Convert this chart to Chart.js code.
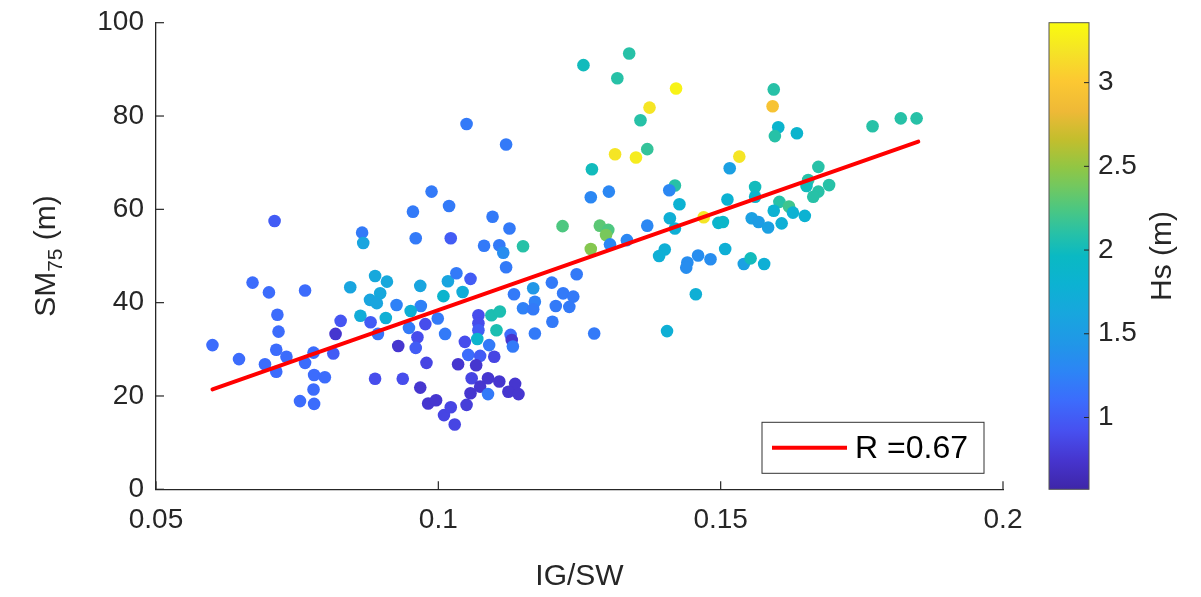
<!DOCTYPE html>
<html>
<head>
<meta charset="utf-8">
<script src="https://cdn.jsdelivr.net/npm/chart.js@4"></script>
<style>
  html, body { margin: 0; padding: 0; background: #fff; }
  #wrap { width: 1201px; height: 597px; position: relative; }
</style>
</head>
<body>
<div id="wrap"><canvas id="chart" width="1201" height="597"></canvas></div>
<script>
// Data
const igsw = [
    0.0671, 0.0700, 0.0764, 0.0710, 0.0600, 0.0647, 0.0715, 0.0717, 0.0713, 0.0731,
    0.0693, 0.0713, 0.0779, 0.0764, 0.0780, 0.0799, 0.0779, 0.0755, 0.0780, 0.0814,
    0.0818, 0.0827, 0.0844, 0.0865, 0.0867, 0.0888, 0.0909, 0.0897, 0.0879, 0.0891,
    0.0926, 0.0968, 0.1017, 0.1009, 0.0969, 0.0862, 0.0907, 0.0951, 0.0880, 0.0893,
    0.0948, 0.0977, 0.0999, 0.1012, 0.0963, 0.0960, 0.0929, 0.0888, 0.0937, 0.0979,
    0.0968, 0.0982, 0.0996, 0.1010, 0.1022, 0.1029, 0.1035, 0.0988, 0.0955, 0.1019,
    0.0960, 0.1022, 0.1050, 0.1120, 0.1096, 0.1126, 0.1081, 0.1108, 0.1115, 0.1150,
    0.1120, 0.1032, 0.1057, 0.1043, 0.1134, 0.1168, 0.1150, 0.1171, 0.1071, 0.1071,
    0.1094, 0.1109, 0.1103, 0.1071, 0.1047, 0.1069, 0.1090, 0.1128, 0.1130, 0.1132,
    0.1053, 0.1074, 0.1099, 0.1067, 0.1059, 0.1088, 0.1108, 0.1136, 0.1074, 0.1057,
    0.1088, 0.1124, 0.1142, 0.1050, 0.1338, 0.1257, 0.1317, 0.1374, 0.1358, 0.1313,
    0.1350, 0.1370, 0.1272, 0.1270, 0.1302, 0.1220, 0.1286, 0.1301, 0.1297, 0.1270,
    0.1304, 0.1334, 0.1370, 0.1245, 0.1201, 0.1221, 0.1239, 0.1208, 0.1232, 0.1168,
    0.1202, 0.1171, 0.1276, 0.1421, 0.1533, 0.1516, 0.1419, 0.1409, 0.1427, 0.1512,
    0.1561, 0.1561, 0.1410, 0.1419, 0.1470, 0.1496, 0.1504, 0.1555, 0.1567, 0.1401,
    0.1391, 0.1460, 0.1482, 0.1441, 0.1439, 0.1508, 0.1541, 0.1553, 0.1456, 0.1405,
    0.1594, 0.1592, 0.1602, 0.1596, 0.1635, 0.1769, 0.1819, 0.1847, 0.1673, 0.1655,
    0.1652, 0.1692, 0.1673, 0.1664, 0.1604, 0.1621, 0.1594, 0.1628, 0.1649, 0.1584,
    0.1608, 0.1577
];
const sm75 = [
    44.3, 42.2, 42.6, 57.5, 30.9, 27.9, 37.4, 33.8, 29.9, 28.4,
    26.8, 25.2, 29.3, 27.1, 24.5, 24.0, 21.4, 18.9, 18.3, 29.1,
    33.3, 36.1, 43.3, 55.0, 52.8, 45.7, 44.5, 42.0, 40.6, 39.9,
    39.5, 43.6, 44.6, 41.4, 39.3, 37.2, 36.7, 38.2, 35.8, 33.3,
    34.6, 35.4, 36.6, 33.3, 32.6, 30.3, 30.7, 23.7, 23.7, 27.1,
    21.8, 18.4, 19.1, 15.9, 17.6, 13.9, 26.8, 63.8, 59.5, 60.7,
    53.8, 53.8, 78.3, 73.9, 58.4, 55.9, 52.2, 52.3, 50.7, 52.1,
    47.6, 46.3, 45.1, 42.3, 41.8, 43.1, 38.8, 40.2, 37.3, 35.6,
    37.3, 38.1, 34.1, 34.1, 31.6, 32.2, 30.9, 33.1, 32.0, 30.6,
    28.8, 28.6, 28.4, 26.6, 23.8, 23.8, 23.1, 22.6, 22.0, 20.6,
    20.4, 20.9, 20.4, 18.1, 93.4, 90.9, 88.1, 81.8, 79.1, 71.8,
    71.1, 72.9, 68.6, 62.6, 63.8, 56.4, 56.5, 55.6, 54.5, 51.5,
    52.5, 53.4, 56.5, 46.1, 44.3, 42.0, 41.3, 39.3, 39.1, 38.6,
    35.9, 33.4, 33.4, 85.9, 71.3, 68.8, 65.1, 64.1, 61.1, 62.1,
    64.8, 62.7, 58.1, 55.9, 58.3, 57.1, 57.3, 58.1, 57.3, 51.4,
    50.0, 50.1, 49.3, 48.6, 47.5, 51.5, 48.3, 49.5, 41.8, 33.9,
    85.7, 82.1, 77.6, 75.7, 76.3, 77.8, 79.5, 79.5, 69.1, 66.3,
    65.0, 65.2, 63.8, 62.7, 61.6, 60.6, 59.7, 59.3, 58.6, 56.1,
    57.0, 48.3
];
const hs = [
    1.1, 1.1, 1.1, 1.0, 1.1, 1.1, 1.1, 1.1, 1.1, 1.1,
    1.1, 1.1, 1.1, 1.1, 1.1, 1.1, 1.1, 1.1, 1.1, 1.0,
    0.75, 0.95, 1.6, 1.2, 1.6, 1.65, 1.65, 1.65, 1.6, 1.6,
    1.25, 1.6, 1.6, 1.85, 1.25, 1.7, 1.75, 1.75, 1.0, 1.15,
    1.2, 0.9, 1.2, 1.2, 0.9, 1.0, 0.75, 0.9, 0.9, 0.85,
    0.75, 0.75, 0.75, 0.85, 0.85, 0.85, 0.75, 1.2, 1.2, 1.2,
    1.2, 1.0, 1.2, 1.2, 1.2, 1.2, 1.2, 1.2, 1.35, 2.1,
    1.2, 1.2, 1.0, 1.7, 1.2, 1.45, 1.25, 1.25, 0.9, 0.9,
    2.05, 2.05, 2.05, 1.0, 0.9, 1.85, 1.2, 1.1, 0.75, 1.2,
    1.1, 1.0, 0.85, 0.75, 0.85, 0.75, 0.75, 0.75, 0.75, 0.75,
    1.2, 0.75, 0.75, 0.8, 2.1, 2.0, 2.1, 3.2, 2.1, 3.2,
    3.25, 2.15, 2.0, 1.3, 1.3, 2.25, 2.3, 2.25, 2.4, 2.45,
    1.3, 1.3, 1.3, 1.2, 1.2, 1.2, 1.2, 1.2, 1.2, 1.2,
    1.2, 1.2, 1.2, 3.3, 3.2, 1.55, 2.1, 1.3, 1.8, 1.8,
    2.0, 1.85, 1.75, 1.75, 3.2, 1.85, 1.9, 1.55, 1.5, 1.75,
    1.75, 1.35, 1.35, 1.35, 1.35, 1.75, 1.55, 2.0, 1.75, 1.75,
    2.1, 2.95, 1.85, 2.1, 1.85, 2.1, 2.1, 2.1, 2.1, 2.1,
    2.0, 2.1, 2.1, 2.1, 2.1, 2.2, 1.8, 1.8, 1.8, 1.55,
    1.75, 1.75
];

// regression line
const fitX = [0.06, 0.185];
const fitY = [21.4, 74.5];
const fitLabel = 'R =0.67';

// axes
const xTicks = [0.05, 0.1, 0.15, 0.2];
const yTicks = [0, 20, 40, 60, 80, 100];
const hsTicks = [1, 1.5, 2, 2.5, 3];
const hsMin = 0.571;
const hsMax = 3.358;

const TEXT = '#262626';
const FONT = "'Liberation Sans', Arial, Helvetica, sans-serif";

// parula-like colormap
const parulaStops = [
    [0.00, [62, 38, 168]],
    [0.06, [70, 52, 205]],
    [0.125, [71, 80, 240]],
    [0.19, [60, 108, 252]],
    [0.25, [45, 132, 246]],
    [0.31, [33, 150, 232]],
    [0.375, [24, 166, 222]],
    [0.44, [12, 178, 210]],
    [0.50, [10, 185, 195]],
    [0.55, [40, 193, 166]],
    [0.60, [75, 199, 130]],
    [0.65, [115, 200, 95]],
    [0.69, [145, 198, 68]],
    [0.75, [195, 190, 45]],
    [0.81, [238, 185, 55]],
    [0.875, [252, 200, 50]],
    [0.94, [245, 228, 38]],
    [1.00, [249, 251, 14]]
];

function parula(t) {
    t = Math.max(0, Math.min(1, t));
    for (let i = 1; i < parulaStops.length; i++) {
        const [t1, c1] = parulaStops[i];
        const [t0, c0] = parulaStops[i - 1];
        if (t <= t1) {
            const f = (t - t0) / (t1 - t0);
            const c = c0.map((v, k) => Math.round(v + (c1[k] - v) * f));
            return `rgb(${c[0]}, ${c[1]}, ${c[2]})`;
        }
    }
    return 'rgb(249, 251, 14)';
}

const points = igsw.map((x, i) => ({ x: x, y: sm75[i] }));
const pointColors = hs.map(v => parula((v - hsMin) / (hsMax - hsMin)));
const fitPoints = fitX.map((x, i) => ({ x: x, y: fitY[i] }));

// Inward ticks, colorbar, legend and rotated titles
const decorPlugin = {
    id: 'decor',
    afterDraw(chart) {
        const ctx = chart.ctx;
        const xs = chart.scales.x;
        const ys = chart.scales.y;
        const cs = chart.scales.hs;
        const area = chart.chartArea;

        ctx.save();
        ctx.strokeStyle = TEXT;
        ctx.lineWidth = 1.2;
        // x ticks (inward)
        xTicks.forEach(v => {
            const px = xs.getPixelForValue(v);
            ctx.beginPath();
            ctx.moveTo(px, area.bottom);
            ctx.lineTo(px, area.bottom - 8);
            ctx.stroke();
        });
        // y ticks (inward)
        yTicks.forEach(v => {
            const py = ys.getPixelForValue(v);
            ctx.beginPath();
            ctx.moveTo(area.left, py);
            ctx.lineTo(area.left + 8, py);
            ctx.stroke();
        });

        // Colorbar
        const cbLeft = cs.left + 46;
        const cbRight = cs.left + 86;
        const cbTop = cs.getPixelForValue(hsMax);
        const cbBottom = cs.getPixelForValue(hsMin);
        const grad = ctx.createLinearGradient(0, cbBottom, 0, cbTop);
        parulaStops.forEach(([t, c]) => grad.addColorStop(t, `rgb(${c[0]}, ${c[1]}, ${c[2]})`));
        ctx.fillStyle = grad;
        ctx.fillRect(cbLeft, cbTop, cbRight - cbLeft, cbBottom - cbTop);
        ctx.strokeStyle = '#555';
        ctx.lineWidth = 1;
        ctx.strokeRect(cbLeft, cbTop, cbRight - cbLeft, cbBottom - cbTop);
        ctx.strokeStyle = TEXT;
        hsTicks.forEach(v => {
            const py = cs.getPixelForValue(v);
            ctx.beginPath();
            ctx.moveTo(cbRight, py);
            ctx.lineTo(cbRight - 5, py);
            ctx.stroke();
        });

        // Colorbar title
        ctx.fillStyle = TEXT;
        ctx.font = `30px ${FONT}`;
        ctx.textAlign = 'center';
        ctx.textBaseline = 'middle';
        ctx.save();
        ctx.translate(1163, (area.top + area.bottom) / 2);
        ctx.rotate(-Math.PI / 2);
        ctx.fillText('Hs (m)', 0, 0);
        ctx.restore();

        // Y axis title with subscript
        ctx.save();
        ctx.translate(44, (area.top + area.bottom) / 2);
        ctx.rotate(-Math.PI / 2);
        const big = `30px ${FONT}`;
        const small = `21px ${FONT}`;
        ctx.font = big;
        const w1 = ctx.measureText('SM').width;
        const w3 = ctx.measureText(' (m)').width;
        ctx.font = small;
        const w2 = ctx.measureText('75').width;
        let x0 = -(w1 + w2 + w3) / 2;
        ctx.textAlign = 'left';
        ctx.textBaseline = 'alphabetic';
        ctx.font = big;
        ctx.fillText('SM', x0, 11);
        ctx.font = small;
        ctx.fillText('75', x0 + w1, 18);
        ctx.font = big;
        ctx.fillText(' (m)', x0 + w1 + w2, 11);
        ctx.restore();

        // Legend box
        const lgRight = area.right - 19;
        const lgBottom = area.bottom - 16;
        const lgW = 222;
        const lgH = 51;
        const lgX = lgRight - lgW;
        const lgY = lgBottom - lgH;
        ctx.fillStyle = '#ffffff';
        ctx.fillRect(lgX, lgY, lgW, lgH);
        ctx.strokeStyle = '#333';
        ctx.lineWidth = 1;
        ctx.strokeRect(lgX, lgY, lgW, lgH);
        ctx.strokeStyle = '#ff0000';
        ctx.lineWidth = 4;
        ctx.beginPath();
        ctx.moveTo(lgX + 10, lgY + lgH / 2);
        ctx.lineTo(lgX + 85, lgY + lgH / 2);
        ctx.stroke();
        ctx.fillStyle = '#000';
        ctx.font = `32px ${FONT}`;
        ctx.textAlign = 'left';
        ctx.textBaseline = 'middle';
        ctx.fillText(fitLabel, lgX + 93, lgY + lgH / 2 + 1);
        ctx.restore();
    }
};

const tickFont = { family: FONT, size: 28 };

new Chart(document.getElementById('chart'), {
    type: 'scatter',
    data: {
        datasets: [
            {
                type: 'line',
                label: fitLabel,
                data: fitPoints,
                borderColor: '#ff0000',
                borderWidth: 4,
                borderCapStyle: 'round',
                pointRadius: 0,
                fill: false,
                order: 0
            },
            {
                label: 'obs',
                data: points,
                backgroundColor: pointColors,
                borderWidth: 0,
                pointRadius: 6.3,
                pointHoverRadius: 6.3,
                order: 1
            }
        ]
    },
    options: {
        responsive: false,
        animation: false,
        devicePixelRatio: 1,
        layout: { padding: { top: 22.7, left: 0, right: 0, bottom: 0 } },
        plugins: {
            legend: { display: false },
            tooltip: { enabled: false }
        },
        scales: {
            x: {
                type: 'linear',
                position: 'bottom',
                min: 0.05,
                max: 0.2,
                afterBuildTicks: s => { s.ticks = xTicks.map(v => ({ value: v })); },
                afterFit: s => { s.height = 107.7; },
                ticks: {
                    color: TEXT,
                    font: tickFont,
                    padding: 14,
                    maxRotation: 0,
                    callback: v => String(v)
                },
                grid: { display: true, drawOnChartArea: false, drawTicks: false },
                border: { display: true, color: TEXT, width: 1.3 },
                title: {
                    display: true,
                    text: 'IG/SW',
                    color: TEXT,
                    font: { family: FONT, size: 30 },
                    padding: { top: 0, bottom: 2 }
                }
            },
            y: {
                type: 'linear',
                position: 'left',
                min: 0,
                max: 100,
                afterBuildTicks: s => { s.ticks = yTicks.map(v => ({ value: v })); },
                afterFit: s => { s.width = 156; s.paddingTop = 0; s.paddingBottom = 0; },
                ticks: {
                    color: TEXT,
                    font: tickFont,
                    padding: 12,
                    callback: v => String(v)
                },
                grid: { display: true, drawOnChartArea: false, drawTicks: false },
                border: { display: true, color: TEXT, width: 1.3 }
            },
            hs: {
                type: 'linear',
                position: 'right',
                min: hsMin,
                max: hsMax,
                afterBuildTicks: s => { s.ticks = hsTicks.map(v => ({ value: v })); },
                afterFit: s => { s.width = 198; s.paddingTop = 0; s.paddingBottom = 0; },
                ticks: {
                    color: TEXT,
                    font: tickFont,
                    padding: 95,
                    callback: v => String(v)
                },
                grid: { display: false, drawTicks: false },
                border: { display: false }
            }
        }
    },
    plugins: [decorPlugin]
});
</script>
</body>
</html>
